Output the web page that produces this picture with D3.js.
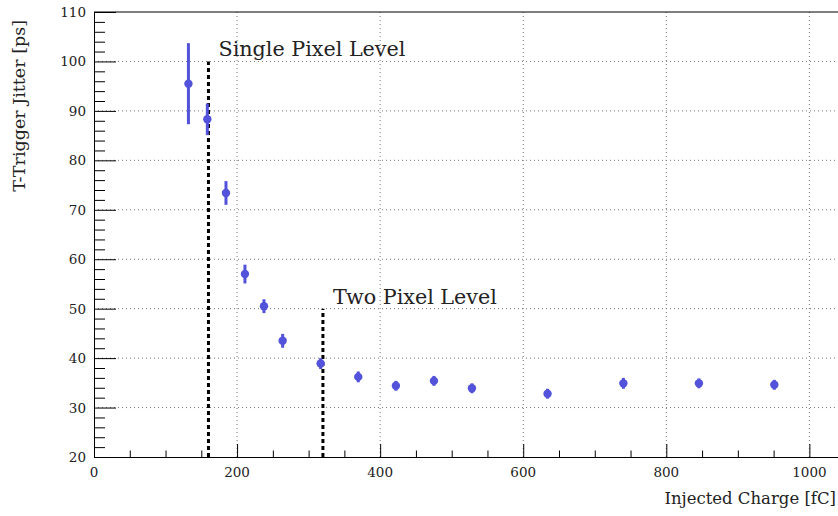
<!DOCTYPE html>
<html>
<head>
<meta charset="utf-8">
<script src="https://cdn.jsdelivr.net/npm/d3@7"></script>
<style>
  body { margin: 0; background: #fff; }
</style>
</head>
<body>
<svg></svg>
<script>
// DATA
let charge = [132, 158.4, 184.5, 211, 237.6, 263.7, 316.8, 369.4, 422, 475.2, 528.3, 634, 740, 845.6, 951]
let jitter = [95.5, 88.3, 73.4, 57.0, 50.5, 43.5, 38.9, 36.2, 34.4, 35.4, 33.9, 32.8, 34.9, 34.9, 34.6]
let jitterErr = [8.2, 3.2, 2.4, 1.9, 1.4, 1.4, 1.1, 1.1, 1.0, 1.0, 1.0, 1.0, 1.1, 1.0, 1.0]
let xTicks = [0, 200, 400, 600, 800, 1000]
let yTicks = [20, 30, 40, 50, 60, 70, 80, 90, 100, 110]
let levelX = [160, 320]
let levelTop = [100, 50]
let levelNames = ["Single Pixel Level", "Two Pixel Level"]

let svgWidth = 838
let svgHeight = 516

let svg = d3.select("svg")
  .attr("width", svgWidth)
  .attr("height", svgHeight)
  .attr("font-family", "'DejaVu Serif', 'Liberation Serif', serif")

// SCALES
let xScale = d3.scaleLinear()
  .domain([0, 1040])
  .range([94, 838])

let yScale = d3.scaleLinear()
  .domain([20, 110])
  .range([457, 12])

// GRID
svg.append('g').selectAll('line')
  .data(yTicks.slice(1, -1))
  .enter().append('line')
  .attr('x1', 94).attr('x2', 838)
  .attr('y1', d => yScale(d)).attr('y2', d => yScale(d))
  .attr('stroke', '#777').attr('stroke-width', 1)
  .attr('stroke-dasharray', '1,3')

svg.append('g').selectAll('line')
  .data(xTicks.slice(1))
  .enter().append('line')
  .attr('x1', d => xScale(d)).attr('x2', d => xScale(d))
  .attr('y1', 12).attr('y2', 457)
  .attr('stroke', '#777').attr('stroke-width', 1)
  .attr('stroke-dasharray', '1,3')

// AXES (ticks pointing inward, like ROOT)
let xAxis = d3.axisTop(xScale)
  .tickValues(d3.range(0, 1040, 50))
  .tickSizeInner(6.5).tickSizeOuter(0)
  .tickFormat('')

let xg = svg.append('g')
  .attr('transform', 'translate(0, 457)')
  .call(xAxis)
xg.selectAll('.tick line')
  .attr('y2', d => d % 200 === 0 ? -13 : -6.5)
  .attr('stroke', '#000')
xg.select('.domain').attr('stroke', '#000')

svg.append('g').selectAll('text')
  .data(xTicks)
  .enter().append('text')
  .attr('x', d => xScale(d))
  .attr('y', 477)
  .attr('text-anchor', 'middle')
  .attr('font-size', 13.5)
  .attr('fill', '#222')
  .text(d => d)

let yAxis = d3.axisRight(yScale)
  .tickValues(d3.range(20, 111, 2))
  .tickSizeInner(11).tickSizeOuter(0)
  .tickFormat('')

let yg = svg.append('g')
  .attr('transform', 'translate(94, 0)')
  .call(yAxis)
yg.selectAll('.tick line')
  .attr('x2', d => d % 10 === 0 ? 22 : 11)
  .attr('stroke', '#000')
yg.select('.domain').attr('stroke', '#000')

svg.append('g').selectAll('text')
  .data(yTicks)
  .enter().append('text')
  .attr('x', 86)
  .attr('y', d => yScale(d) + 5)
  .attr('text-anchor', 'end')
  .attr('font-size', 13.5)
  .attr('fill', '#222')
  .text(d => d)

// top frame
svg.append('line')
  .attr('x1', 94).attr('x2', 838)
  .attr('y1', 12).attr('y2', 12)
  .attr('stroke', '#000')

// AXIS TITLES
svg.append('text')
  .attr('transform', 'translate(25, 20) rotate(-90)')
  .attr('text-anchor', 'end')
  .attr('font-size', 17.5)
  .attr('fill', '#222')
  .text('T-Trigger Jitter [ps]')

svg.append('text')
  .attr('x', 836)
  .attr('y', 504)
  .attr('text-anchor', 'end')
  .attr('font-size', 16.5)
  .attr('fill', '#222')
  .text('Injected Charge [fC]')

// LEVEL LINES
svg.append('g').selectAll('line')
  .data(levelX)
  .enter().append('line')
  .attr('x1', d => xScale(d)).attr('x2', d => xScale(d))
  .attr('y1', yScale(20))
  .attr('y2', (d, i) => yScale(levelTop[i]))
  .attr('stroke', '#000').attr('stroke-width', 3)
  .attr('stroke-dasharray', '4,3')

svg.append('g').selectAll('text')
  .data(levelNames)
  .enter().append('text')
  .attr('x', (d, i) => xScale(levelX[i]) + 10)
  .attr('y', (d, i) => yScale(levelTop[i]) - 5)
  .attr('font-size', 20.7)
  .attr('fill', '#222')
  .text(d => d)

// DATA POINTS
let color = '#5252db'
let pts = svg.append('g')

pts.selectAll('line')
  .data(charge)
  .enter().append('line')
  .attr('x1', d => xScale(d)).attr('x2', d => xScale(d))
  .attr('y1', (d, i) => yScale(jitter[i] - jitterErr[i]))
  .attr('y2', (d, i) => yScale(jitter[i] + jitterErr[i]))
  .attr('stroke', color).attr('stroke-width', 3)

pts.selectAll('circle')
  .data(charge)
  .enter().append('circle')
  .attr('cx', d => xScale(d))
  .attr('cy', (d, i) => yScale(jitter[i]))
  .attr('r', 4.2)
  .attr('fill', color)
</script>
</body>
</html>
